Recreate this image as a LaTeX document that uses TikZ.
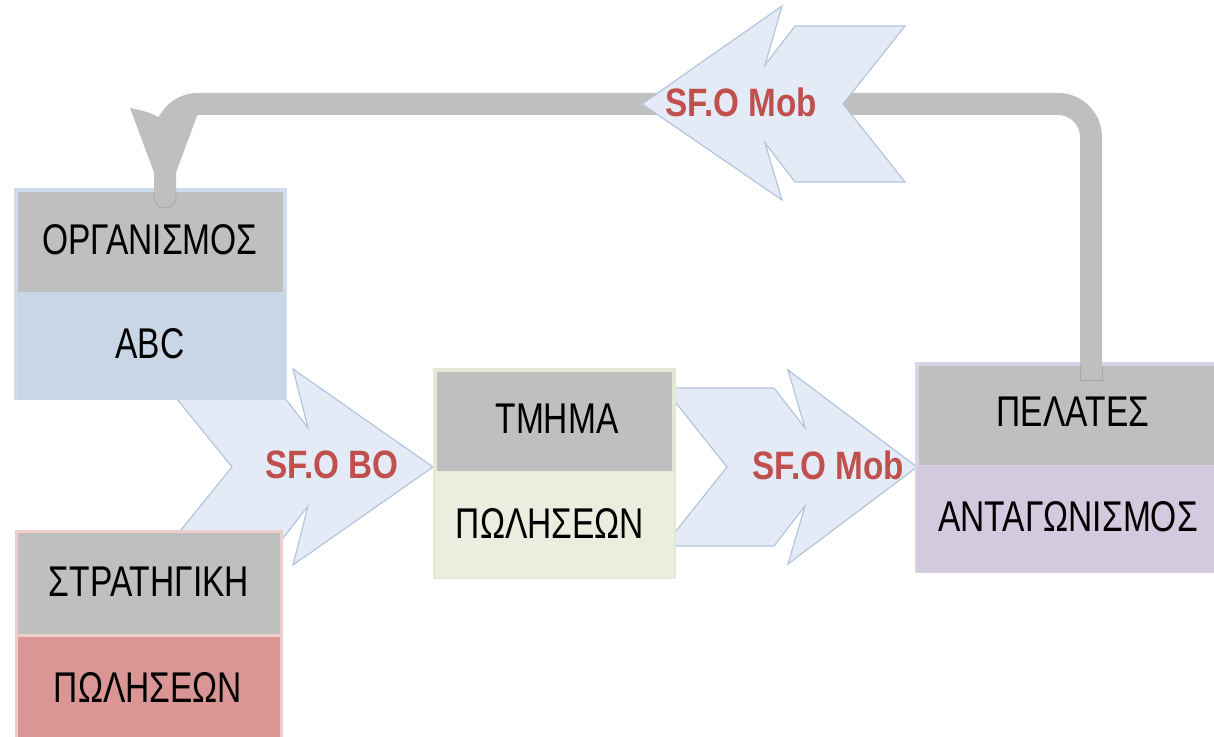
\documentclass[tikz,border=0pt]{standalone}
\usepackage{fontspec}
\setmainfont{Liberation Sans}
\newfontfamily\boxfont{Liberation Sans}[FakeStretch=0.78]
\newfontfamily\arrfont{Liberation Sans}[FakeStretch=0.84]
\usetikzlibrary{calc}
\definecolor{gbox}{HTML}{BFBFBF}
\definecolor{gedge}{HTML}{A6A6A6}
\definecolor{arrfill}{HTML}{E4EBF6}
\definecolor{arrline}{HTML}{B3C6DE}
\definecolor{redlbl}{HTML}{C0504D}
\definecolor{orgbody}{HTML}{C9D6E6}
\definecolor{orgborder}{HTML}{CFDCEE}
\definecolor{stratbody}{HTML}{D99694}
\definecolor{stratborder}{HTML}{EFCDCD}
\definecolor{deptbody}{HTML}{EBEEDF}
\definecolor{deptborder}{HTML}{E3E9D4}
\definecolor{custbody}{HTML}{D3CAE0}
\definecolor{custborder}{HTML}{DAD2E7}
\tikzset{
  boxlbl/.style={font=\boxfont\fontsize{21.5}{21.5}\selectfont, inner sep=0pt, text=black},
  arrlbl/.style={font=\arrfont\bfseries\fontsize{19.8}{19.8}\selectfont, inner sep=0pt, text=redlbl},
  chev/.style={fill=arrfill, draw=arrline, line width=0.6pt, line join=miter},
  plate/.style={rectangle, inner sep=0pt, draw=none},
  topcell/.style={rectangle, inner sep=0pt, fill=gbox, draw=none},
  conn/.style={draw=gbox, line width=11pt, rounded corners=16.5pt, line cap=round},
  stemedge/.style={draw=gedge, line width=0.4pt},
}
\begin{document}
\begin{tikzpicture}[x=0.5pt,y=-0.5pt]
\useasboundingbox (0,0) rectangle (1214,737);
% chevron arrows behind the boxes
\draw[chev] (168,388) -- (277,388) -- (308,428) -- (293,369) -- (433,467) -- (293,565) -- (308,506) -- (277,546) -- (168,546) -- (232,467) -- cycle;
\draw[chev] (664,388) -- (774,388) -- (805,428) -- (788,370) -- (917,467) -- (788,564) -- (805,506) -- (774,546) -- (664,546) -- (727,467) -- cycle;
% ORGANISMOS / ABC
\node[plate, fill=orgborder, minimum width=136.5pt, minimum height=106pt] (org) at (150.5,294) {};
\node[plate, fill=orgbody, minimum width=134.5pt, minimum height=55pt] (orgbot) at (151.5,345) {};
\node[topcell, minimum width=132.5pt, minimum height=50pt] (orgtop) at (150.5,242) {};
\node[boxlbl] (orgt) at (150,240) {ΟΡΓΑΝΙΣΜΟΣ};
\node[boxlbl] (orgb) at (150,344) {ABC};
% STRATHGIKH / POLHSEON
\node[plate, fill=stratborder, minimum width=134pt, minimum height=107.5pt] (strat) at (149,637.5) {};
\node[plate, fill=stratbody, minimum width=131pt, minimum height=54pt] (stratbot) at (149,691) {};
\node[topcell, minimum width=131pt, minimum height=50.5pt] (strattop) at (149,583.5) {};
\node[boxlbl] (stratt) at (149,582) {ΣΤΡΑΤΗΓΙΚΗ};
\node[boxlbl] (stratb) at (148,687) {ΠΩΛΗΣΕΩΝ};
% TMHMA / POLHSEON
\node[plate, fill=deptborder, minimum width=121.5pt, minimum height=105.5pt] (dept) at (554.5,473.5) {};
\node[plate, fill=deptbody, minimum width=119.5pt, minimum height=53pt] (deptbot) at (554.5,524.5) {};
\node[topcell, minimum width=117.5pt, minimum height=49.5pt] (depttop) at (554.5,421.5) {};
\node[boxlbl] (deptt) at (557,419) {ΤΜΗΜΑ};
\node[boxlbl] (deptb) at (550,523) {ΠΩΛΗΣΕΩΝ};
% PELATES / ANTAGONISMOS
\node[plate, fill=custborder, minimum width=155.5pt, minimum height=105.5pt] (cust) at (1070.5,467.5) {};
\node[plate, fill=custbody, minimum width=153.5pt, minimum height=53pt] (custbot) at (1070.5,518.5) {};
\node[topcell, minimum width=151.5pt, minimum height=49.5pt] (custtop) at (1070.5,415.5) {};
\node[boxlbl] (custt) at (1073,412) {ΠΕΛΑΤΕΣ};
\node[boxlbl] (custb) at (1068,517) {ΑΝΤΑΓΩΝΙΣΜΟΣ};
% feedback connector from customers to organisation
\coordinate (cs) at (1091,380);
\coordinate (ce) at (165,197);
\draw[conn] (cs) -- (cs |- 0,104) -- (ce |- 0,104) -- (ce);
\fill[gbox] (130,108) .. controls (146,111) and (158,115) .. (165,122) .. controls (172,115) and (184,111) .. (200,108) -- (165,202) -- cycle;
% faint edges of the connector ends where they lie on the grey cells
\draw[stemedge] (154,192) -- (154,197) arc[start angle=180, end angle=0, radius=11] -- (176,192);
\draw[stemedge] (1080,366) -- (1080,380) -- (1102,380) -- (1102,366);
% top chevron
\draw[chev] (905,26) -- (795,26) -- (765,65) -- (782,6) -- (642,104) -- (782,200) -- (765,143) -- (795,182) -- (905,182) -- (843,104) -- cycle;
% arrow labels
\node[arrlbl] (lbo) at (332,465) {SF.O BO};
\node[arrlbl] (lmob) at (828,465) {SF.O Mob};
\node[arrlbl] (lmobtop) at (741,102) {SF.O Mob};
\end{tikzpicture}
\end{document}
